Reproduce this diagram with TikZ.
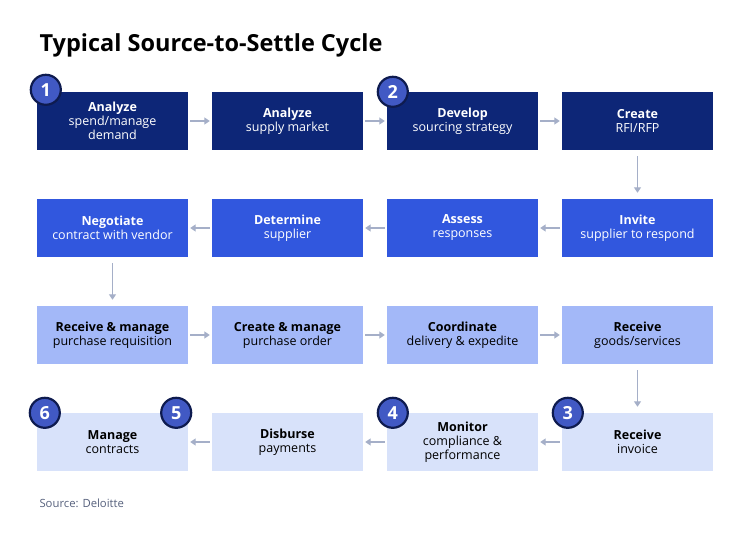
\documentclass[tikz,border=0pt]{standalone}
\usepackage{fontspec}
\setmainfont{Open Sans}
\usepackage{tikz}
\usetikzlibrary{positioning,arrows.meta}

\definecolor{navy}{HTML}{0D2677}
\definecolor{royal}{HTML}{3157DE}
\definecolor{periw}{HTML}{A3B8F8}
\definecolor{pale}{HTML}{D8E2FA}
\definecolor{badgefill}{HTML}{4159C4}
\definecolor{badgeline}{HTML}{0E1B4F}
\definecolor{arrowc}{HTML}{A5AFC8}
\definecolor{srcc}{HTML}{56607C}

\begin{document}
\begin{tikzpicture}[x=1pt,y=-1pt,
  stepbox/.style={rectangle,minimum width=151pt,minimum height=58pt,inner sep=0pt,align=center,
    font=\fontsize{12.5}{14}\selectfont},
  rowa/.style={stepbox,fill=navy,text=white},
  rowb/.style={stepbox,fill=royal,text=white},
  rowc/.style={stepbox,fill=periw,text=black},
  rowd/.style={stepbox,fill=pale,text=black},
  badge/.style={circle,fill=badgefill,draw=badgeline,line width=2.2pt,minimum size=30pt,inner sep=0pt,
    text=white,font=\fontsize{18}{18}\selectfont\bfseries},
  flow/.style={draw=arrowc,line width=1.8pt,-{Triangle[length=5.5pt,width=7pt]},shorten <=2pt,shorten >=2pt},
  down/.style={flow,shorten <=6pt,shorten >=6pt}]
  \useasboundingbox (0,0) rectangle (750,540);

  \node[anchor=base west,font=\fontsize{23.5}{24}\selectfont\bfseries] (title) at (36,52) {Typical Source-to-Settle Cycle};

  % row 1
  \node[rowa] (demand) at (112.5,121) {\textbf{Analyze}\\spend/manage\\demand};
  \node[rowa] (market) at (287.5,121) {\textbf{Analyze}\\supply market};
  \node[rowa] (strategy) at (462.5,121) {\textbf{Develop}\\sourcing strategy};
  \node[rowa] (rfp) at (637.5,121) {\textbf{Create}\\RFI/RFP};

  % row 2
  \node[rowb] (invite) at (637.5,228) {\textbf{Invite}\\supplier to respond};
  \node[rowb] (assess) at (462.5,228) {\textbf{Assess}\\responses};
  \node[rowb] (determine) at (287.5,228) {\textbf{Determine}\\supplier};
  \node[rowb] (negotiate) at (112.5,228) {\textbf{Negotiate}\\contract with vendor};

  % row 3
  \node[rowc] (requisition) at (112.5,335) {\textbf{Receive \& manage}\\purchase requisition};
  \node[rowc] (order) at (287.5,335) {\textbf{Create \& manage}\\purchase order};
  \node[rowc] (delivery) at (462.5,335) {\textbf{Coordinate}\\delivery \& expedite};
  \node[rowc] (goods) at (637.5,335) {\textbf{Receive}\\goods/services};

  % row 4
  \node[rowd] (invoice) at (637.5,442) {\textbf{Receive}\\invoice};
  \node[rowd] (monitor) at (462.5,442) {\textbf{Monitor}\\compliance \&\\performance};
  \node[rowd] (disburse) at (287.5,442) {\textbf{Disburse}\\payments};
  \node[rowd] (contracts) at (112.5,442) {\textbf{Manage}\\contracts};

  \draw[flow] (demand) -- (market);
  \draw[flow] (market) -- (strategy);
  \draw[flow] (strategy) -- (rfp);
  \draw[down] (rfp) -- (invite);
  \draw[flow] (invite) -- (assess);
  \draw[flow] (assess) -- (determine);
  \draw[flow] (determine) -- (negotiate);
  \draw[down] (negotiate) -- (requisition);
  \draw[flow] (requisition) -- (order);
  \draw[flow] (order) -- (delivery);
  \draw[flow] (delivery) -- (goods);
  \draw[down] (goods) -- (invoice);
  \draw[flow] (invoice) -- (monitor);
  \draw[flow] (monitor) -- (disburse);
  \draw[flow] (disburse) -- (contracts);

  % numbered badges
  \node[badge] (b1) at ([xshift=9pt,yshift=2pt]demand.north west) {1};
  \node[badge] (b2) at ([xshift=6pt]strategy.north west) {2};
  \node[badge] (b3) at ([xshift=6pt]invoice.north west) {3};
  \node[badge] (b4) at ([xshift=6pt]monitor.north west) {4};
  \node[badge] (b5) at ([xshift=-12pt]contracts.north east) {5};
  \node[badge] (b6) at ([xshift=8pt]contracts.north west) {6};

  \node[anchor=base west,text=srcc,font=\fontsize{11.3}{12}\selectfont] (source) at (36,507) {Source: Deloitte};
\end{tikzpicture}
\end{document}
